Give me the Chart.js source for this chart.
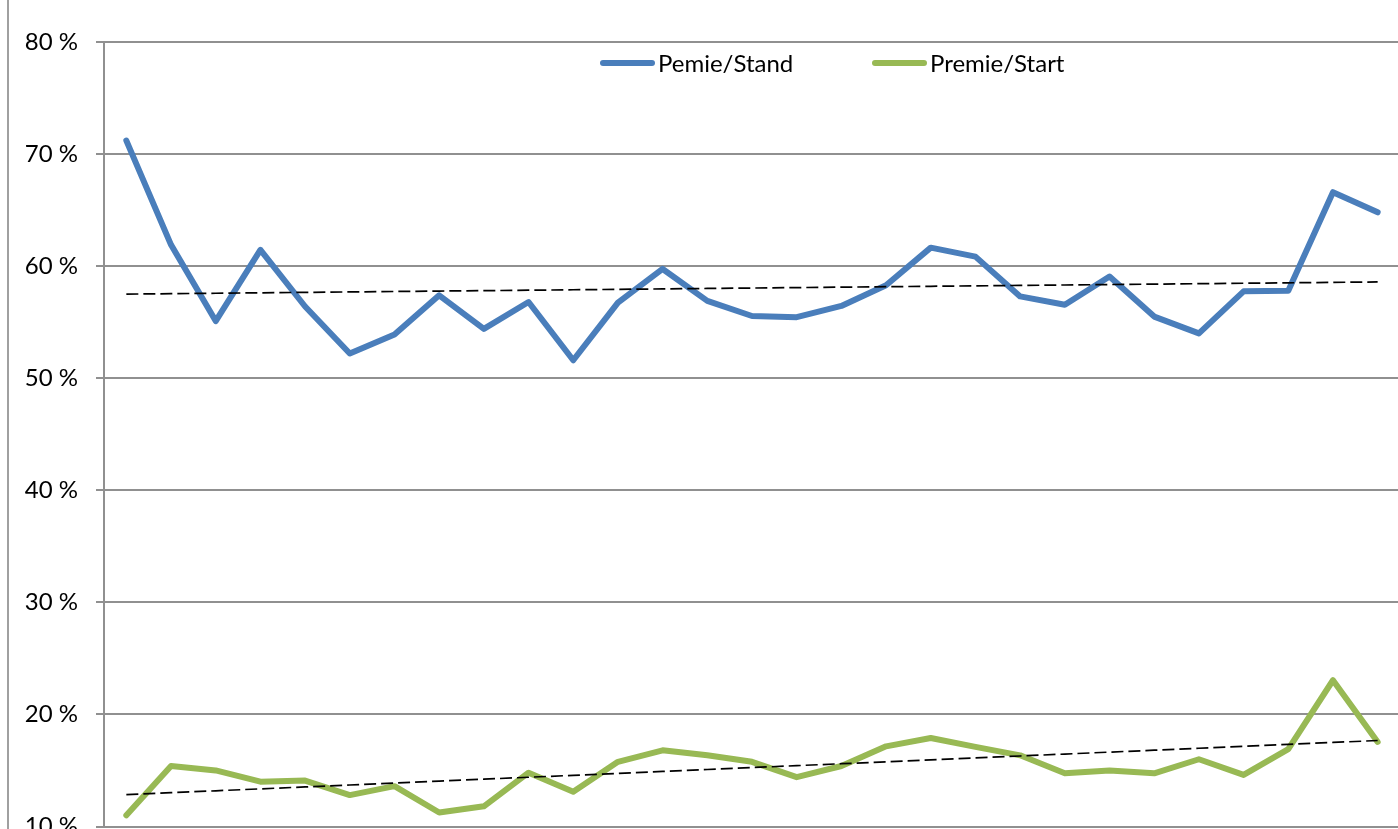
<!DOCTYPE html>
<html>
<head>
<meta charset="utf-8">
<title>Pemie/Stand - Premie/Start</title>
<script src="https://cdn.jsdelivr.net/npm/chart.js@4.4.1/dist/chart.umd.min.js"></script>
<style>
  body { margin: 0; background: #fff; }
  .wrap { position: relative; width: 1398px; height: 829px; overflow: hidden; }
  .wrap canvas { position: absolute; left: 0; top: 0; }
  .frame { position: absolute; left: 7px; top: 0; width: 2px; height: 829px; background: #a0a0a0; }
  .item { position: absolute; top: 49px; display: flex; align-items: center; font: 24px Lato, sans-serif; line-height: 28px; color: #000; white-space: nowrap; }
  .item i { display: inline-block; width: 55px; height: 6px; border-radius: 3px; margin-right: 3px; }
</style>
</head>
<body>
<div class="wrap">
  <div class="frame"></div>
  <canvas id="myChart" width="1400" height="870"></canvas>
  <div id="legend"></div>
</div>
<script>
// categories (x labels are cut off in the picture)
const labels = ['1', '2', '3', '4', '5', '6', '7', '8', '9', '10', '11', '12', '13', '14', '15',
    '16', '17', '18', '19', '20', '21', '22', '23', '24', '25', '26', '27', '28', '29'];

const standValues = [71.2, 61.9, 55.1, 61.45, 56.4, 52.2, 53.9, 57.4, 54.4, 56.8, 51.6, 56.75, 59.75, 56.9, 55.55,
    55.45, 56.45, 58.3, 61.65, 60.85, 57.3, 56.55, 59.07, 55.5, 54.0, 57.75, 57.8, 66.6, 64.8];

const startValues = [11.0, 15.4, 15.0, 14.0, 14.1, 12.8, 13.6, 11.25, 11.8, 14.8, 13.1, 15.77, 16.8, 16.35, 15.77,
    14.4, 15.4, 17.15, 17.9, 17.1, 16.35, 14.75, 15.0, 14.75, 16.0, 14.6, 16.9, 23.05, 17.55];

const seriesNames = ['Pemie/Stand', 'Premie/Start'];
const yTicks = [10, 20, 30, 40, 50, 60, 70, 80];

const blue = '#4a7ebb';
const green = '#98b954';

// linear trendline (least squares over the category index)
function trend(values) {
    const n = values.length;
    let sx = 0, sy = 0, sxy = 0, sxx = 0;
    values.forEach((v, i) => { sx += i; sy += v; sxy += i * v; sxx += i * i; });
    const b = (n * sxy - sx * sy) / (n * sxx - sx * sx);
    const a = (sy - b * sx) / n;
    return values.map((v, i) => a + b * i);
}

const lineStyle = {
    borderWidth: 6,
    pointRadius: 0,
    tension: 0,
    borderCapStyle: 'round',
    borderJoinStyle: 'round',
    order: 2
};

const trendStyle = {
    borderColor: '#000',
    borderWidth: 1.7,
    borderDash: [12, 5],
    pointRadius: 0,
    tension: 0,
    order: 1
};

const data = {
    labels: labels,
    datasets: [
        Object.assign({ label: seriesNames[0], data: standValues, borderColor: blue, backgroundColor: blue }, lineStyle),
        Object.assign({ label: seriesNames[1], data: startValues, borderColor: green, backgroundColor: green }, lineStyle),
        Object.assign({ label: 'trend1', data: trend(standValues) }, trendStyle),
        Object.assign({ label: 'trend2', data: trend(startValues) }, trendStyle)
    ]
};

const config = {
    type: 'line',
    data: data,
    options: {
        responsive: false,
        animation: false,
        layout: {
            padding: { left: 0, right: 0, top: 42, bottom: 43.5 }
        },
        scales: {
            x: {
                type: 'category',
                offset: true,
                display: false
            },
            y: {
                min: yTicks[0],
                max: yTicks[yTicks.length - 1],
                afterFit: (scale) => { scale.width = 104; },
                afterBuildTicks: (scale) => { scale.ticks = yTicks.map(v => ({ value: v })); },
                grid: {
                    color: '#909090',
                    lineWidth: 2,
                    tickLength: 8
                },
                border: {
                    color: '#909090',
                    width: 2
                },
                ticks: {
                    padding: 18,
                    color: '#000',
                    font: { family: 'Lato', size: 24 },
                    callback: (v) => v + ' %'
                }
            }
        },
        plugins: {
            legend: { display: false },
            tooltip: { enabled: false }
        }
    }
};

const myChart = new Chart(document.getElementById('myChart'), config);

// html legend placed inside the plot, like the original
const legendLeft = [600, 872];
const legendBox = document.getElementById('legend');
seriesNames.forEach((name, i) => {
    const item = document.createElement('span');
    item.className = 'item';
    item.style.left = legendLeft[i] + 'px';
    const swatch = document.createElement('i');
    swatch.style.background = data.datasets[i].borderColor;
    item.appendChild(swatch);
    item.appendChild(document.createTextNode(name));
    legendBox.appendChild(item);
});
</script>
</body>
</html>
